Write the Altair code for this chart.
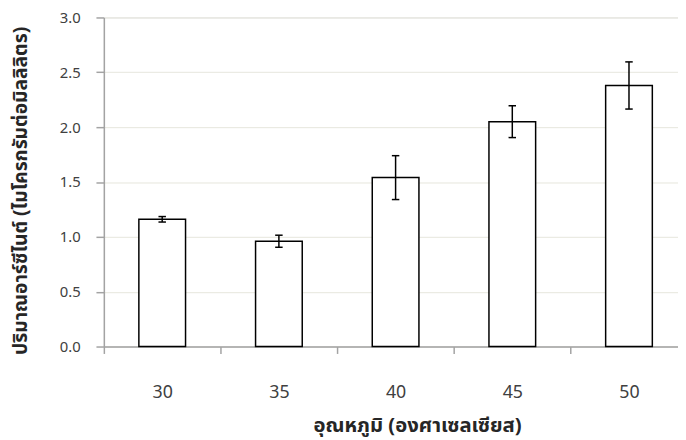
import altair as alt
import pandas as pd

# Data
temps = [30, 35, 40, 45, 50]
means = [1.16, 0.96, 1.54, 2.05, 2.38]
errs = [0.025, 0.055, 0.20, 0.145, 0.215]

x_label_values = [30, 35, 40, 45, 50]
x_tick_values = [27.5, 32.5, 37.5, 42.5, 47.5, 52.5]
y_tick_values = [0.0, 0.5, 1.0, 1.5, 2.0, 2.5, 3.0]

x_title = "อุณหภูมิ (องศาเซลเซียส)"
y_title = "ปริมาณอาร์ซีไนต์ (ไมโครกรัมต่อมิลลิลิตร)"

df = pd.DataFrame({"temp": temps, "mean": means, "err": errs})

FONT = "Tahoma, Noto Sans Thai, Noto Sans, DejaVu Sans, sans-serif"
AXIS_GREY = "#a3a3a3"

base = alt.Chart(df).transform_calculate(
    lo="datum.mean - datum.err",
    hi="datum.mean + datum.err",
    xl="datum.temp - 1",
    xr="datum.temp + 1",
    cl="datum.temp - 0.16",
    cr="datum.temp + 0.16",
)

xscale = alt.Scale(domain=[27.5, 52.1], nice=False, zero=False)
yscale = alt.Scale(domain=[0, 3], nice=False)

yaxis = alt.Axis(
    values=y_tick_values, format=".1f", title=y_title,
    grid=True, gridColor="#e6e6dc", gridWidth=1,
    domainColor=AXIS_GREY, domainWidth=1.5,
    tickColor=AXIS_GREY, tickSize=8, tickWidth=1.5,
    labelPadding=16, labelFontSize=15, labelColor="#404040", labelFont=FONT,
    titleFont=FONT, titleFontSize=19.5, titleFontWeight="bold", titleColor="#262626",
    titleAngle=270, titleAlign="center", titleBaseline="middle",
    titleX=-84, titleY=175,
)

label_axis = alt.Axis(
    values=x_label_values, format="d", ticks=False, grid=False, domain=False,
    labelPadding=38, labelFontSize=18, labelColor="#404040", labelFont=FONT,
    title=None, orient="bottom",
)

tick_axis = alt.Axis(
    values=x_tick_values, labels=False, grid=False,
    domain=True, domainColor=AXIS_GREY, domainWidth=1.5,
    ticks=True, tickColor=AXIS_GREY, tickSize=7, tickWidth=1.5,
    title=x_title, orient="bottom",
    titleFont=FONT, titleFontSize=20.5, titleFontWeight="bold", titleColor="#262626",
    titleAlign="center", titleBaseline="middle", titleX=317, titleY=80,
)

bars = base.mark_bar(fill="white", stroke="black", strokeWidth=1.5).encode(
    x=alt.X("xl:Q", scale=xscale, axis=label_axis),
    x2="xr:Q",
    y=alt.Y("mean:Q", scale=yscale, axis=yaxis),
    y2=alt.datum(0),
)

err_v = base.mark_rule(color="black", strokeWidth=1.5).encode(
    x=alt.X("temp:Q", scale=xscale, axis=tick_axis),
    y=alt.Y("lo:Q", scale=yscale, axis=yaxis),
    y2="hi:Q",
)

cap_hi = base.mark_rule(color="black", strokeWidth=1.5).encode(
    x=alt.X("cl:Q", scale=xscale, axis=None),
    x2="cr:Q",
    y=alt.Y("hi:Q", scale=yscale, axis=yaxis),
)

cap_lo = base.mark_rule(color="black", strokeWidth=1.5).encode(
    x=alt.X("cl:Q", scale=xscale, axis=None),
    x2="cr:Q",
    y=alt.Y("lo:Q", scale=yscale, axis=yaxis),
)

chart = (
    alt.layer(bars, err_v, cap_hi, cap_lo)
    .resolve_axis(x="independent")
    .properties(
        width=581, height=333,
        autosize=alt.AutoSizeParams(type="none"),
        padding={"left": 97, "top": 7, "right": 0, "bottom": 92},
    )
    .configure_view(stroke=None)
    .configure(background="white")
)

chart.save("out.html", embed_options={"renderer": "svg", "actions": False})
